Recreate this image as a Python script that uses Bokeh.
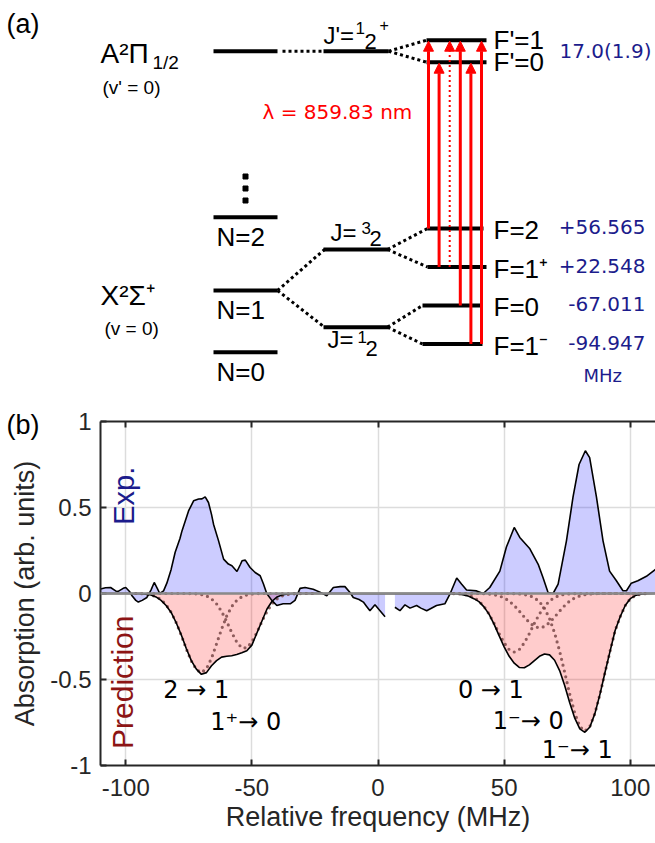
import math
from bokeh.plotting import figure
from bokeh.models import Range1d, Arrow, NormalHead, Span, Label, LinearAxis, FixedTicker
from bokeh.core.properties import value
from bokeh.embed import file_html
from bokeh.resources import INLINE

# ---------------- data: panel (a) (level scheme) ----------------
excited_levels = ["F'=1", "F'=0"]
excited_splitting = "17.0(1.9)"
ground_levels = ["F=2", "F=1⁺", "F=0", "F=1⁻"]
ground_shifts = ["+56.565", "+22.548", "-67.011", "-94.947"]
rot_levels = ["N=2", "N=1", "N=0"]
wavelength_label = "λ = 859.83 nm"
trans_from = [0, 1, 1, 2, 3, 3]      # index into ground_levels
trans_to = [0, 1, 0, 0, 1, 0]        # index into excited_levels
trans_weak = [False, False, True, False, False, False]

# ---------------- data: panel (b) (spectrum) ----------------
freq_ticks = [-100, -50, 0, 50, 100]
freq_tick_labels = ["-100", "-50", "0", "50", "100"]
abs_ticks = [-1, -0.5, 0, 0.5, 1]
abs_tick_labels = ["-1", "-0.5", "0", "0.5", "1"]

nan = float("nan")
exp_mhz = [-110, -108, -106, -104, -103, -101, -100, -98.5, -97.5, -96,
           -95, -93.5, -91.6, -90, -88.7, -87.5, -86.5, -85, -83.7, -82,
           -80.4, -78.5, -77.7, -75.1, -73.1, -71.1, -69.8, -68.5, -67.2, -66,
           -65.2, -63.2, -61.2, -59.3, -57.9, -55.9, -54.5, -53.9, -52.6, -50.7,
           -48.7, -46.7, -45.4, -44.1, -42.1, -40.1, -37.6, -34.8, -32.9, -30.9,
           -28.9, -25.7, -23, -20.3, -17.7, -15, -13.1, -11.1, -9.8, -7.5,
           -5.8, -4.5, -3.2, -1.2, 0.8, 2.8, nan, 6.7, 8.7, 10.7,
           12.7, 15.3, 17, 19.3, 23.2, 26.5, 28.5, 31.2, 33.1, 35.1,
           39.1, 41.7, 44.3, 48.3, 50.9, 54, 56.2, 60.2, 63.5, 65.4,
           67.4, 69.4, 71.4, 74.7, 77.3, 79.7, 82.2, 83.9, 86.6, 89.2,
           91.8, 94.5, 97.1, 98.5, 100.4, 103, 106.4, 110]
exp_abs = [0.026, 0.033, 0.035, 0.015, 0.012, 0.03, 0.035, 0.012, -0.013, -0.04,
           -0.05, -0.04, -0.023, 0.02, 0.064, 0.03, 0.0, 0.015, 0.06, 0.14,
           0.24, 0.32, 0.364, 0.48, 0.539, 0.549, 0.55, 0.562, 0.529, 0.46,
           0.403, 0.306, 0.2, 0.171, 0.161, 0.128, 0.17, 0.19, 0.194, 0.151,
           0.122, 0.103, 0.055, 0.0, -0.04, -0.07, -0.06, -0.06, -0.04, 0.03,
           0.035, 0.025, 0.008, -0.013, 0.035, 0.04, 0.04, 0.006, -0.023, -0.035,
           -0.05, -0.075, -0.1, -0.066, -0.1, -0.135, nan, -0.08, -0.1, -0.066,
           -0.085, -0.07, -0.085, -0.1, -0.07, -0.06, -0.004, 0.09, 0.055, 0.02,
           0.015, 0.0, 0.035, 0.13, 0.27, 0.384, 0.326, 0.26, 0.17, 0.093,
           0.006, 0.0, 0.055, 0.306, 0.56, 0.75, 0.83, 0.79, 0.56, 0.306,
           0.13, 0.074, 0.016, 0.016, 0.06, 0.074, 0.1, 0.14]

left_mhz = [-96, -94, -92, -90, -88, -86, -84, -82, -80, -78, -76, -74,
            -72, -70, -68, -66, -64, -62, -60, -58, -56, -54, -52, -50,
            -48, -46, -44, -42, -40, -38, -36, -34, -32, -30, -28, -26]
pred_left = [0.0, 0.001, 0.004, 0.009, 0.02, 0.04, 0.07, 0.11, 0.17, 0.24, 0.32, 0.39,
             0.44, 0.47, 0.46, 0.42, 0.39, 0.37, 0.365, 0.362, 0.355, 0.345, 0.333, 0.30,
             0.23, 0.16, 0.09, 0.045, 0.02, 0.008, 0.003, 0.0, 0.0, 0.0, 0.0, 0.0]
line_2_1 = [0.0, 0.001, 0.004, 0.008, 0.018, 0.035, 0.065, 0.109, 0.169, 0.242, 0.321, 0.392,
            0.442, 0.46, 0.437, 0.377, 0.293, 0.207, 0.132, 0.076, 0.04, 0.019, 0.008, 0.003,
            0.001, 0.0, 0.0, 0.0, 0.0, 0.0, 0.0, 0.0, 0.0, 0.0, 0.0, 0.0]
line_1p_0 = [0.0, 0.0, 0.0, 0.0, 0.0, 0.0, 0.0, 0.0, 0.0, 0.0, 0.0, 0.001,
             0.002, 0.006, 0.014, 0.031, 0.06, 0.104, 0.162, 0.226, 0.282, 0.316, 0.316, 0.282,
             0.226, 0.162, 0.104, 0.06, 0.031, 0.014, 0.006, 0.002, 0.001, 0.0, 0.0, 0.0]

right_mhz = [30, 32, 34, 36, 38, 40, 42, 44, 46, 48, 50, 52, 54,
             56, 58, 60, 62, 64, 66, 68, 70, 72, 74, 76, 78, 80,
             82, 84, 86, 88, 90, 92, 94, 96, 98, 100, 102, 104, 106]
pred_right = [0.001, 0.003, 0.008, 0.016, 0.03, 0.047, 0.078, 0.12, 0.178, 0.245, 0.31, 0.365, 0.405,
              0.43, 0.432, 0.415, 0.39, 0.365, 0.352, 0.357, 0.388, 0.448, 0.535, 0.635, 0.725, 0.787,
              0.807, 0.776, 0.697, 0.585, 0.458, 0.335, 0.215, 0.135, 0.07, 0.03, 0.012, 0.004, 0.001]
line_0_1 = [0.001, 0.002, 0.005, 0.011, 0.023, 0.043, 0.075, 0.119, 0.173, 0.233, 0.287, 0.326, 0.34,
            0.326, 0.287, 0.233, 0.173, 0.119, 0.075, 0.043, 0.023, 0.011, 0.005, 0.002, 0.001, 0.0,
            0.0, 0.0, 0.0, 0.0, 0.0, 0.0, 0.0, 0.0, 0.0, 0.0, 0.0, 0.0, 0.0]
line_1m_0 = [0.0, 0.0, 0.0, 0.0, 0.0, 0.0, 0.001, 0.003, 0.007, 0.014, 0.025, 0.044, 0.07,
             0.102, 0.137, 0.169, 0.192, 0.2, 0.192, 0.169, 0.137, 0.102, 0.07, 0.044, 0.025, 0.014,
             0.007, 0.003, 0.001, 0.0, 0.0, 0.0, 0.0, 0.0, 0.0, 0.0, 0.0, 0.0, 0.0]
line_1m_1 = [0.0, 0.0, 0.0, 0.0, 0.0, 0.0, 0.0, 0.0, 0.0, 0.0, 0.0, 0.0, 0.001,
             0.002, 0.006, 0.012, 0.025, 0.048, 0.086, 0.146, 0.229, 0.335, 0.458, 0.585, 0.696, 0.773,
             0.8, 0.773, 0.696, 0.585, 0.458, 0.335, 0.215, 0.135, 0.07, 0.03, 0.012, 0.004, 0.001]

peak_labels = ["2 → 1", "1⁺→ 0", "0 → 1", "1⁻→ 0", "1⁻→ 1"]

for arr in (pred_left, line_2_1, line_1p_0):
    assert len(arr) == len(left_mhz)
for arr in (pred_right, line_0_1, line_1m_0, line_1m_1):
    assert len(arr) == len(right_mhz)
assert len(exp_mhz) == len(exp_abs)

# ---------------- styles ----------------
SANS = "Liberation Sans"
VERA = "DejaVu Sans"
NAVY = "#1c1c8c"
DARK = "#262626"
W, H1, H2, OVER = 655, 445, 458, 60
BASE = 0.32   # empirical shift so that y is the visual baseline

# ================= panel (a) =================
p1 = figure(width=W, height=H1, x_range=Range1d(0, W), y_range=Range1d(H1, 0),
            x_axis_location=None, y_axis_location=None, toolbar_location=None,
            output_backend="svg", min_border=0, outline_line_color=None,
            background_fill_color=None, border_fill_color=None)
p1.grid.visible = False


def txt(p, x, y, s, size, color="black", font=SANS, align="left"):
    p.text(x=[x], y=[y - BASE * size], text=[s], text_font=value(font),
           text_font_size=f"{size}px", text_color=color, text_align=align,
           text_baseline="alphabetic")


# schematic layout (not to scale)
LEFT = (213, 277)
MID = (323, 388)
y_A = 50.7
y_exc = [39.7, 61.7]
y_rot = [216.7, 290.0, 351.7]
y_J = [249.0, 326.7]
y_gnd = [228.0 + 38.5 * i for i in range(len(ground_levels))]
gnd_x0 = [427, 427, 422, 422]
gnd_x1 = [483, 486, 480, 482]
EXC = (426, 486)

# solid levels
sx0 = [LEFT[0], MID[0]] + [LEFT[0]] * 3 + [MID[0]] * 2 + [EXC[0]] * 2 + gnd_x0
sx1 = [LEFT[1], MID[1]] + [LEFT[1]] * 3 + [MID[1]] * 2 + [EXC[1]] * 2 + gnd_x1
sy = [y_A, y_A] + y_rot + y_J + y_exc + y_gnd
p1.segment(x0=sx0, y0=sy, x1=sx1, y1=sy, line_color="black", line_width=4)

# dotted connectors
cx0 = [LEFT[1] + 5, MID[1], MID[1], LEFT[1], LEFT[1], MID[1] - 1, MID[1] - 1, MID[1] - 1, MID[1] - 1]
cy0 = [y_A, y_A, y_A, y_rot[1], y_rot[1], y_J[0], y_J[0], y_J[1], y_J[1]]
cx1 = [MID[0], EXC[0], EXC[0], MID[0] + 1, MID[0] + 1, gnd_x0[0], gnd_x0[1], gnd_x0[2], gnd_x0[3]]
cy1 = [y_A, y_exc[0], y_exc[1], y_J[0], y_J[1], y_gnd[0], y_gnd[1], y_gnd[2], y_gnd[3]]
p1.segment(x0=cx0, y0=cy0, x1=cx1, y1=cy1, line_color="black", line_width=3, line_dash="3 3")

# vertical ellipsis above N=2
p1.scatter(x=[245, 245, 245], y=[176, 188, 200], marker="square", size=5, color="black")

# transition arrows
for i, (g, e, weak) in enumerate(zip(trans_from, trans_to, trans_weak)):
    x = 428 + 10.6 * i
    p1.add_layout(Arrow(end=NormalHead(size=10, fill_color="red", line_color="red", line_width=1),
                        x_start=x, y_start=y_gnd[g], x_end=x, y_end=y_exc[e] + 1,
                        line_color="red", line_width=2 if weak else 3,
                        line_dash="2 3" if weak else "solid"))

# texts
txt(p1, 6, 32, "(a)", 27)
txt(p1, 100, 62, "A²Π", 28)
txt(p1, 152, 68, "1/2", 19)
txt(p1, 102, 93, "(v' = 0)", 19)
txt(p1, 100, 304, "X²Σ⁺", 28)
txt(p1, 104, 334, "(v = 0)", 19)
for lab, y in zip(rot_levels, y_rot):
    txt(p1, 216, y + 28, lab, 26)

# J labels with stacked fractions
txt(p1, 323, 42.5, "J'=", 24)
txt(p1, 355, 33, "1", 17)
txt(p1, 364, 48.5, "2", 22)
txt(p1, 379, 30, "+", 16)
txt(p1, 330, 240, "J=", 24)
txt(p1, 361, 233, "3", 17)
txt(p1, 369, 245, "2", 22)
txt(p1, 327, 346.5, "J=", 24)
txt(p1, 357, 342, "1", 17)
txt(p1, 365, 355.5, "2", 22)

for lab, y in zip(excited_levels, y_exc):
    txt(p1, 493, y + 8, lab, 26)
for lab, y in zip(ground_levels, y_gnd):
    txt(p1, 493, y + 10, lab, 26)
txt(p1, 559, 57, excited_splitting, 20, color=NAVY, font=VERA)
for lab, y in zip(ground_shifts, y_gnd):
    txt(p1, 645, y + 5, lab, 20, color=NAVY, font=VERA, align="right")
txt(p1, 583, 381, "MHz", 18, color=NAVY, font=VERA)
txt(p1, 262, 118, wavelength_label, 20, color="red", font=VERA)
txt(p1, 6, 433, "(b)", 27)

# ================= panel (b) =================
p2 = figure(width=W, height=H2, x_range=Range1d(-110, 110), y_range=Range1d(-1, 1),
            toolbar_location=None, output_backend="svg",
            min_border_left=100, min_border_right=0, min_border_top=36, min_border_bottom=78,
            outline_line_color=None, background_fill_color=None, border_fill_color=None)
p2.margin = (-OVER, 0, 0, 0)

top_axis = LinearAxis(ticker=FixedTicker(ticks=freq_ticks), major_label_text_color=None,
                      major_label_text_font_size="1px", major_label_standoff=0)
p2.add_layout(top_axis, "above")

for ax in list(p2.xaxis) + list(p2.yaxis):
    ax.axis_line_width = 2
    ax.axis_line_color = DARK
    ax.major_tick_in = 6
    ax.major_tick_out = 0
    ax.major_tick_line_width = 2
    ax.major_tick_line_color = DARK
    ax.minor_tick_line_color = None
    ax.major_label_text_font = SANS
    ax.axis_label_text_font = SANS
    ax.axis_label_text_font_size = "27px"
    ax.axis_label_text_font_style = "normal"
    ax.axis_label_text_color = DARK

xa = p2.below[0]
ya = p2.left[0]
for ax in (xa, ya):
    ax.major_label_text_color = DARK
    ax.major_label_text_font_size = "24px"
xa.ticker = FixedTicker(ticks=freq_ticks)
xa.major_label_overrides = dict(zip(freq_ticks, freq_tick_labels))
xa.major_label_standoff = 13
xa.axis_label = "Relative frequency (MHz)"
xa.axis_label_standoff = 3
ya.ticker = FixedTicker(ticks=abs_ticks)
ya.major_label_overrides = dict(zip(abs_ticks, abs_tick_labels))
ya.major_label_standoff = 9
ya.axis_label = "Absorption (arb. units)"
ya.axis_label_standoff = 7

p2.xgrid.ticker = FixedTicker(ticks=freq_ticks)
p2.ygrid.ticker = FixedTicker(ticks=abs_ticks)
p2.grid.grid_line_color = "#dcdcdc"
p2.grid.grid_line_width = 1.5

# prediction (drawn downward)
pred_x = [-110] + left_mhz + right_mhz + [110]
pred_y = [0.0] + [-v for v in pred_left] + [-v for v in pred_right] + [0.0]
p2.varea(x=pred_x, y1=0, y2=pred_y, fill_color="red", fill_alpha=0.2)

# experiment segments (gap where data is missing)
segs, cx, cy = [], [], []
for x, y in zip(exp_mhz, exp_abs):
    if math.isnan(x):
        segs.append((cx, cy))
        cx, cy = [], []
    else:
        cx.append(x)
        cy.append(y)
segs.append((cx, cy))
for sx_, sy_ in segs:
    p2.varea(x=sx_, y1=0, y2=sy_, fill_color="blue", fill_alpha=0.2)

# individual predicted lines (dotted)
for grid, comp in ((left_mhz, line_2_1), (left_mhz, line_1p_0),
                   (right_mhz, line_0_1), (right_mhz, line_1m_0), (right_mhz, line_1m_1)):
    p2.line(grid, [-v for v in comp], line_color="#7a4848", line_alpha=0.85, line_width=3.2,
            line_dash="0 6", line_cap="round")

p2.line(pred_x, pred_y, line_color="black", line_width=1.6)
for sx_, sy_ in segs:
    p2.line(sx_, sy_, line_color="black", line_width=1.6)

p2.add_layout(Span(location=0, dimension="width", line_color="#8a8a8a", line_width=2.5))

PK = 24
shift = BASE * PK / 172.0   # same visual-baseline correction in data units
p2.text(x=[-85.1, -66.5, 31.7, 45.5, 64.9],
        y=[v + shift for v in (-0.606, -0.79, -0.606, -0.787, -0.956)],
        text=peak_labels, text_font=value(VERA), text_font_size=f"{PK}px", text_color="black",
        text_baseline="alphabetic")

p2.add_layout(Label(x=-100.7, y=0.568, text="Exp.", angle=math.pi / 2, text_align="center",
                    text_baseline="middle", text_font=SANS, text_font_size="29px", text_color=NAVY))
p2.add_layout(Label(x=-101.2, y=-0.516, text="Prediction", angle=math.pi / 2, text_align="center",
                    text_baseline="middle", text_font=SANS, text_font_size="30px",
                    text_color="#8c1414"))

open("out.html", "w").write(file_html([p1, p2], INLINE))
